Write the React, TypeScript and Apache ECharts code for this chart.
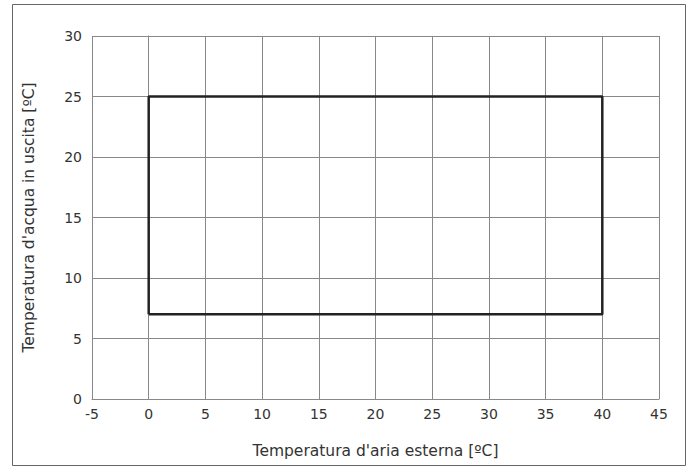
import React, { useEffect, useRef } from "react";
import * as echarts from "echarts";

const xTicks = [-5, 0, 5, 10, 15, 20, 25, 30, 35, 40, 45];
const yTicks = [0, 5, 10, 15, 20, 25, 30];
const envelopeX = [0, 40, 40, 0, 0];
const envelopeY = [7, 7, 25, 25, 7];
const xName = "Temperatura d'aria esterna [ºC]";
const yName = "Temperatura d'acqua in uscita [ºC]";

export default function App() {
  const ref = useRef<HTMLDivElement>(null);
  useEffect(() => {
    const chart = echarts.init(ref.current!, null, { renderer: "svg" });
    const font = "DejaVu Sans, Open Sans, sans-serif";
    chart.setOption({
      animation: false,
      backgroundColor: "#fff",
      textStyle: { fontFamily: font },
      graphic: [
        {
          type: "rect",
          shape: { x: 12.5, y: 4.5, width: 673, height: 461 },
          style: { fill: "none", stroke: "#666", lineWidth: 1 },
          silent: true,
        },
      ],
      grid: { left: 92, top: 36, right: 31, bottom: 67 },
      xAxis: {
        type: "value",
        min: xTicks[0],
        max: xTicks[xTicks.length - 1],
        interval: 5,
        name: xName,
        nameLocation: "middle",
        nameGap: 44,
        nameTextStyle: { fontSize: 15.5, color: "#333", fontFamily: font },
        axisLine: { show: true, lineStyle: { color: "#888", width: 1 } },
        axisTick: { show: false },
        axisLabel: { fontSize: 14, color: "#333", margin: 8, fontFamily: font },
        splitLine: { show: true, lineStyle: { color: "#888", width: 1 } },
      },
      yAxis: {
        type: "value",
        min: yTicks[0],
        max: yTicks[yTicks.length - 1],
        interval: 5,
        name: yName,
        nameLocation: "middle",
        nameGap: 55,
        nameTextStyle: { fontSize: 15.5, color: "#333", fontFamily: font },
        axisLine: { show: true, lineStyle: { color: "#888", width: 1 } },
        axisTick: { show: false },
        axisLabel: { fontSize: 14, color: "#333", margin: 10, fontFamily: font },
        splitLine: { show: true, lineStyle: { color: "#888", width: 1 } },
      },
      series: [
        {
          type: "line",
          data: envelopeX.map((x, i) => [x, envelopeY[i]]),
          symbol: "none",
          lineStyle: { color: "#222", width: 2.5 },
          z: 5,
        },
      ],
    });
    return () => chart.dispose();
  }, []);
  return (
    <div
      ref={ref}
      style={{ position: "absolute", left: 0, top: 0, width: 690, height: 466 }}
    />
  );
}
